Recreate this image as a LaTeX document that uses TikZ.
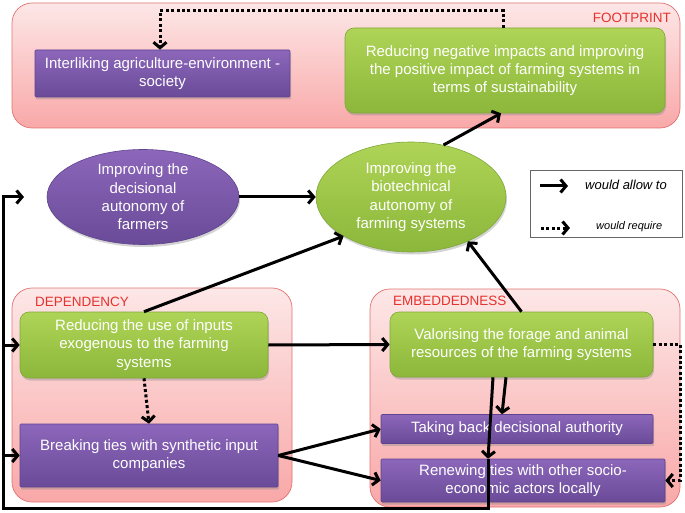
\documentclass[tikz,border=0pt]{standalone}
\usepackage{fontspec}
\setmainfont{Liberation Sans}
\usetikzlibrary{arrows.meta,shapes.geometric,shadows}
\definecolor{pinkTop}{HTML}{FDE7E7}
\definecolor{pinkBot}{HTML}{F9A8A8}
\definecolor{pinkLine}{HTML}{E07270}
\definecolor{labelRed}{HTML}{E5322D}
\definecolor{greenTop}{HTML}{AFD457}
\definecolor{greenBot}{HTML}{8BB73A}
\definecolor{greenLine}{HTML}{7FA83A}
\definecolor{purpTop}{HTML}{8C66BA}
\definecolor{purpBot}{HTML}{6A4B98}
\definecolor{purpLine}{HTML}{5E4390}
\newcommand\bodyfnt{\fontsize{15}{18.3}\selectfont}
\begin{document}
\begin{tikzpicture}[x=1pt, y={(0pt,-1pt)},
  region/.style={draw=pinkLine, line width=0.7pt, rounded corners=20pt, top color=pinkTop, bottom color=pinkBot},
  lab/.style={text=labelRed, font=\fontsize{13.5}{16}\selectfont, inner sep=0pt},
  shad/.style={drop shadow={opacity=0.35, shadow xshift=1pt, shadow yshift=-2.5pt}},
  gbox/.style={shad, draw=greenLine, line width=0.6pt, rounded corners=9pt, top color=greenTop, bottom color=greenBot, text=white, align=center, font=\bodyfnt, inner sep=1pt},
  pbox/.style={shad, draw=purpLine, line width=0.6pt, rounded corners=1pt, top color=purpTop, bottom color=purpBot, text=white, align=center, font=\bodyfnt, inner sep=1pt},
  goval/.style={shad, ellipse, draw=greenLine, line width=0.6pt, top color=greenTop, bottom color=greenBot, text=white, align=center, font=\bodyfnt, inner sep=-5pt},
  poval/.style={shad, ellipse, draw=purpLine, line width=0.6pt, top color=purpTop, bottom color=purpBot, text=white, align=center, font=\bodyfnt, inner sep=-5pt},
  arr/.style={line width=3pt, line join=miter, -{Straight Barb[length=5.5pt,width=13pt]}},
  dotarr/.style={arr, dash pattern=on 3pt off 2.4pt},
  legtext/.style={font=\itshape, inner sep=0pt}]
\useasboundingbox (0,0) rectangle (685,513);

% regions
\node[region, minimum width=668pt, minimum height=125pt] (fp) at (346,65.5) {};
\node[lab, anchor=east] (fplab) at (671,18) {FOOTPRINT};
\node[region, minimum width=280pt, minimum height=214pt] (dep) at (152,395) {};
\node[lab, anchor=west] (deplab) at (35,302) {DEPENDENCY};
\node[region, minimum width=310pt, minimum height=218pt] (emb) at (525,398) {};
\node[lab, anchor=west] (emblab) at (393,301) {EMBEDDEDNESS};

% boxes
\node[pbox, minimum width=255pt, minimum height=47pt] (ia) at (162.5,73.5) {Interliking agriculture-environment -\\society};
\node[gbox, minimum width=320pt, minimum height=85pt] (rn) at (505,70.5) {Reducing negative impacts and improving\\the positive impact of farming systems in\\terms of sustainability};
\node[poval, minimum width=192pt, minimum height=95pt] (da) at (143,197) {Improving the\\decisional\\autonomy of\\farmers};
\node[goval, minimum width=190pt, minimum height=110pt] (bio) at (411,197) {Improving the\\biotechnical\\autonomy of\\farming systems};
\node[gbox, minimum width=248pt, minimum height=66pt] (ri) at (144,345) {Reducing the use of inputs\\exogenous to the farming\\systems};
\node[pbox, minimum width=258pt, minimum height=63pt] (bk) at (149,455.5) {Breaking ties with synthetic input\\companies};
\node[gbox, minimum width=263pt, minimum height=65pt] (va) at (521.5,344.5) {Valorising the forage and animal\\resources of the farming systems};
\node[pbox, minimum width=272pt, minimum height=29pt] (tb) at (517,429) {Taking back decisional authority};
\node[pbox, minimum width=284pt, minimum height=43pt] (rw) at (523,480.5) {Renewing ties with other socio-\\economic actors locally};

% legend
\node[draw=black!60, line width=0.7pt, fill=white, minimum width=152pt, minimum height=67pt] (lg) at (606,203.5) {};
\coordinate (la1) at (540,186);
\coordinate (la2) at (568,186);
\coordinate (lb1) at (541,228);
\coordinate (lb2) at (570,228);
\node[legtext, font=\fontsize{13}{15}\selectfont\itshape, anchor=west] (lt1) at (585,185) {would allow to};
\node[legtext, font=\fontsize{11}{13}\selectfont\itshape, anchor=west] (lt2) at (596,227) {would require};
\draw[arr] (la1) -- (la2);
\draw[dotarr] (lb1) -- (lb2);

% connectors
\coordinate (t1) at (503,11);
\coordinate (t2) at (160,11);
\draw[dotarr] (rn.north -| t1) -- (t1) -- (t2) -- (ia.north -| t2);
\draw[arr] (bio.58) -- ([xshift=-4pt]rn.south);
\draw[arr] (da) -- (bio);
\draw[arr] (ri.north) -- (bio.south west);
\draw[arr] (va.north) -- (bio.-38);
\draw[arr] (ri.east) -- (va.west);
\draw[dotarr] (ri.south) -- (bk.north);
\draw[arr] (bk.east) -- (tb.west);
\draw[arr] (bk.east) -- (rw.west);
\draw[arr] ([xshift=-15.5pt]va.south) -- ([xshift=-15pt]tb.north);
\draw[arr] ([xshift=-28.5pt]va.south) -- ([xshift=-35pt]rw.north);
\coordinate (fb1) at (488,508);
\coordinate (fb2) at (3,508);
\coordinate (fb3) at (3,197);
\coordinate (fb4) at (24,197);
\draw[arr] ([xshift=-35pt]rw.north) -- (fb1) -- (fb2) -- (fb3) -- (fb4);
\draw[arr] (fb2 |- ri.west) -- (ri.west);
\draw[arr] (fb2 |- bk.west) -- (bk.west);
\coordinate (r1) at (680,344.5);
\coordinate (r2) at (680,480.5);
\draw[dotarr] (va.east) -- (va.east -| r1) -- (r2) -- (rw.east);
\end{tikzpicture}
\end{document}
